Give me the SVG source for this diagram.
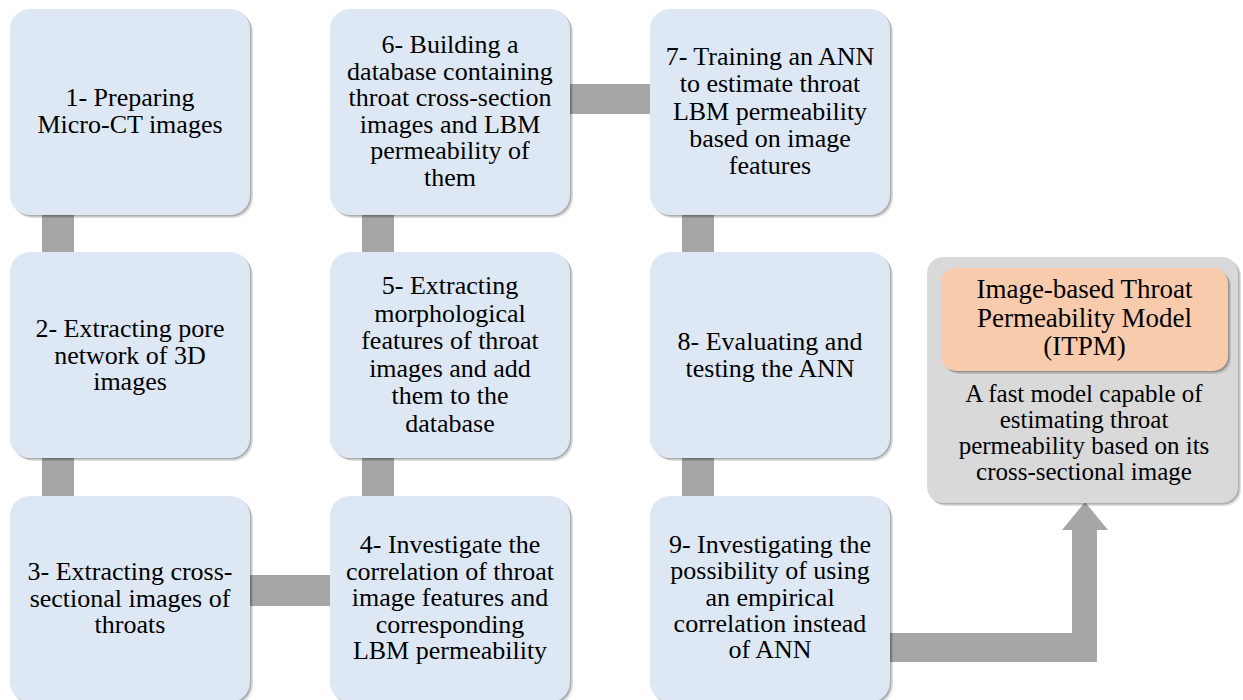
<svg xmlns="http://www.w3.org/2000/svg" width="1243" height="700" viewBox="0 0 1243 700" font-family="Liberation Serif, serif">
  <defs>
    <style>
      .step { fill: #DEE8F4; }
      .outer { fill: #D9D9D9; }
      .inner { fill: #F8CBAD; }
      .sh1 { fill: #000; opacity: 0.12; }
      .sh2 { fill: #000; opacity: 0.22; }
      .link { fill: #A6A6A6; }
    </style>
  </defs>

  <rect width="1243" height="700" fill="#FFFFFF"/>

  <!-- connectors -->
  <g id="connectors">
    <rect class="link" x="42" y="210" width="32" height="48"/>
    <rect class="link" x="42" y="452" width="32" height="50"/>
    <rect class="link" x="244" y="575" width="92" height="31"/>
    <rect class="link" x="362" y="452" width="32" height="50"/>
    <rect class="link" x="362" y="210" width="32" height="48"/>
    <rect class="link" x="564" y="84" width="92" height="30"/>
    <rect class="link" x="682" y="210" width="32" height="48"/>
    <rect class="link" x="682" y="452" width="32" height="50"/>
    <path class="link" d="M884 633 L1072 633 L1072 530 L1062 530 L1085 502 L1108 530 L1097 530 L1097 662 L884 662 Z"/>
  </g>

  <!-- step 1 -->
  <g id="step1">
    <rect class="sh1" x="13" y="12" width="240" height="206" rx="20"/>
    <rect class="sh2" x="11.5" y="10.5" width="240" height="206" rx="20"/>
    <rect class="step" x="10" y="9" width="240" height="206" rx="20"/>
    <text style="font-family:'Liberation Serif',serif" font-size="26" text-anchor="middle" x="130" y="106"><tspan x="130">1- Preparing</tspan><tspan x="130" dy="26.5">Micro-CT images</tspan></text>
  </g>

  <!-- step 2 -->
  <g id="step2">
    <rect class="sh1" x="13" y="255" width="240" height="206" rx="20"/>
    <rect class="sh2" x="11.5" y="253.5" width="240" height="206" rx="20"/>
    <rect class="step" x="10" y="252" width="240" height="206" rx="20"/>
    <text style="font-family:'Liberation Serif',serif" font-size="26" text-anchor="middle" x="130" y="337"><tspan x="130">2- Extracting pore</tspan><tspan x="130" dy="26.5">network of 3D</tspan><tspan x="130" dy="26.5">images</tspan></text>
  </g>

  <!-- step 3 -->
  <g id="step3">
    <rect class="sh1" x="13" y="499" width="240" height="206" rx="20"/>
    <rect class="sh2" x="11.5" y="497.5" width="240" height="206" rx="20"/>
    <rect class="step" x="10" y="496" width="240" height="206" rx="20"/>
    <text style="font-family:'Liberation Serif',serif" font-size="26" text-anchor="middle" x="130" y="580"><tspan x="130">3- Extracting cross-</tspan><tspan x="130" dy="26.5">sectional images of</tspan><tspan x="130" dy="26.5">throats</tspan></text>
  </g>

  <!-- step 4 -->
  <g id="step4">
    <rect class="sh1" x="333" y="499" width="240" height="206" rx="20"/>
    <rect class="sh2" x="331.5" y="497.5" width="240" height="206" rx="20"/>
    <rect class="step" x="330" y="496" width="240" height="206" rx="20"/>
    <text style="font-family:'Liberation Serif',serif" font-size="26" text-anchor="middle" x="450" y="553"><tspan x="450">4- Investigate the</tspan><tspan x="450" dy="26.5">correlation of throat</tspan><tspan x="450" dy="26.5">image features and</tspan><tspan x="450" dy="26.5">corresponding</tspan><tspan x="450" dy="26.5">LBM permeability</tspan></text>
  </g>

  <!-- step 5 -->
  <g id="step5">
    <rect class="sh1" x="333" y="255" width="240" height="206" rx="20"/>
    <rect class="sh2" x="331.5" y="253.5" width="240" height="206" rx="20"/>
    <rect class="step" x="330" y="252" width="240" height="206" rx="20"/>
    <text style="font-family:'Liberation Serif',serif" font-size="26" text-anchor="middle" x="450" y="294"><tspan x="450">5- Extracting</tspan><tspan x="450" dy="27.5">morphological</tspan><tspan x="450" dy="27.5">features of throat</tspan><tspan x="450" dy="27.5">images and add</tspan><tspan x="450" dy="27.5">them to the</tspan><tspan x="450" dy="27.5">database</tspan></text>
  </g>

  <!-- step 6 -->
  <g id="step6">
    <rect class="sh1" x="333" y="12" width="240" height="206" rx="20"/>
    <rect class="sh2" x="331.5" y="10.5" width="240" height="206" rx="20"/>
    <rect class="step" x="330" y="9" width="240" height="206" rx="20"/>
    <text style="font-family:'Liberation Serif',serif" font-size="26" text-anchor="middle" x="450" y="53"><tspan x="450">6- Building a</tspan><tspan x="450" dy="26.5">database containing</tspan><tspan x="450" dy="26.5">throat cross-section</tspan><tspan x="450" dy="26.5">images and LBM</tspan><tspan x="450" dy="26.5">permeability of</tspan><tspan x="450" dy="26.5">them</tspan></text>
  </g>

  <!-- step 7 -->
  <g id="step7">
    <rect class="sh1" x="653" y="12" width="240" height="206" rx="20"/>
    <rect class="sh2" x="651.5" y="10.5" width="240" height="206" rx="20"/>
    <rect class="step" x="650" y="9" width="240" height="206" rx="20"/>
    <text style="font-family:'Liberation Serif',serif" font-size="26" text-anchor="middle" x="770" y="65"><tspan x="770">7- Training an ANN</tspan><tspan x="770" dy="27.3">to estimate throat</tspan><tspan x="770" dy="27.3">LBM permeability</tspan><tspan x="770" dy="27.3">based on image</tspan><tspan x="770" dy="27.3">features</tspan></text>
  </g>

  <!-- step 8 -->
  <g id="step8">
    <rect class="sh1" x="653" y="255" width="240" height="206" rx="20"/>
    <rect class="sh2" x="651.5" y="253.5" width="240" height="206" rx="20"/>
    <rect class="step" x="650" y="252" width="240" height="206" rx="20"/>
    <text style="font-family:'Liberation Serif',serif" font-size="26" text-anchor="middle" x="770" y="350"><tspan x="770">8- Evaluating and</tspan><tspan x="770" dy="26.5">testing the ANN</tspan></text>
  </g>

  <!-- step 9 -->
  <g id="step9">
    <rect class="sh1" x="653" y="499" width="240" height="206" rx="20"/>
    <rect class="sh2" x="651.5" y="497.5" width="240" height="206" rx="20"/>
    <rect class="step" x="650" y="496" width="240" height="206" rx="20"/>
    <text style="font-family:'Liberation Serif',serif" font-size="26" text-anchor="middle" x="770" y="553"><tspan x="770">9- Investigating the</tspan><tspan x="770" dy="26.3">possibility of using</tspan><tspan x="770" dy="26.3">an empirical</tspan><tspan x="770" dy="26.3">correlation instead</tspan><tspan x="770" dy="26.3">of ANN</tspan></text>
  </g>

  <!-- resulting model -->
  <g id="itpm">
    <rect class="sh1" x="930" y="260" width="311" height="246" rx="16"/>
    <rect class="sh2" x="928.5" y="258.5" width="311" height="246" rx="16"/>
    <rect class="outer" x="927" y="257" width="311" height="246" rx="16"/>
    <rect class="sh1" x="944" y="271" width="287" height="103" rx="15"/>
    <rect class="sh2" x="942.5" y="269.5" width="287" height="103" rx="15"/>
    <rect class="inner" x="941" y="268" width="287" height="103" rx="15"/>
    <text style="font-family:'Liberation Serif',serif" font-size="27" text-anchor="middle" x="1084.5" y="298"><tspan x="1084.5">Image-based Throat</tspan><tspan x="1084.5" dy="28.5">Permeability Model</tspan><tspan x="1084.5" dy="28.5">(ITPM)</tspan></text>
    <text style="font-family:'Liberation Serif',serif" font-size="25" text-anchor="middle" x="1084" y="402"><tspan x="1084">A fast model capable of</tspan><tspan x="1084" dy="26">estimating throat</tspan><tspan x="1084" dy="26">permeability based on its</tspan><tspan x="1084" dy="26">cross-sectional image</tspan></text>
  </g>
</svg>
